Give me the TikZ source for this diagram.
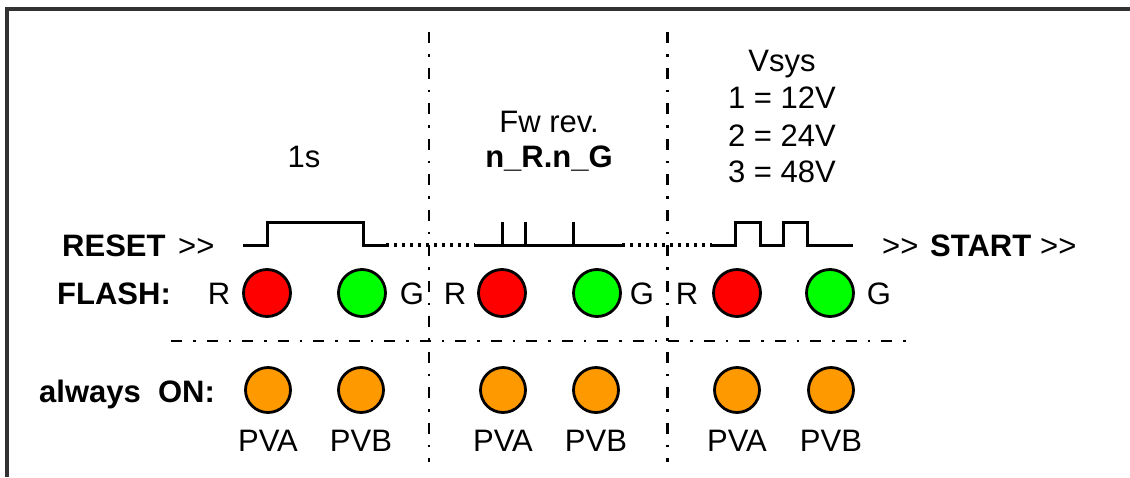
\documentclass[tikz,border=0pt]{standalone}
\usepackage{fontspec}
\setmainfont{Liberation Sans}
\definecolor{ledred}{RGB}{255,0,0}
\definecolor{ledgreen}{RGB}{0,255,0}
\definecolor{ledorange}{RGB}{255,153,0}
\definecolor{framegray}{RGB}{50,50,50}
\newcommand\dblgt{>\kern0pt>}
\begin{document}
\begin{tikzpicture}[x=1pt,y=-1pt,
  txt/.style={inner sep=0pt,font=\fontsize{31}{37}\selectfont},
  btxt/.style={txt,font=\fontsize{31}{37}\selectfont\bfseries},
  led/.style={circle,draw=black,line width=2.8pt,minimum size=47pt,inner sep=0pt},
  redled/.style={led,fill=ledred},
  greenled/.style={led,fill=ledgreen},
  orangeled/.style={led,fill=ledorange,minimum size=45pt},
  sig/.style={line width=3pt,line join=miter},
  dots/.style={line width=3.2pt,dash pattern=on 3pt off 5pt},
  sep/.style={line width=2.6pt,dash pattern=on 11pt off 11pt on 2.5pt off 11pt},
  framestyle/.style={draw=framegray,line width=3.5pt}]
\path[use as bounding box] (0,0) rectangle (1130,477);
\fill[white] (0,0) rectangle (1130,477);
% frame
\coordinate (fbl) at (7,477);
\coordinate (ftl) at (7,9);
\coordinate (ftr) at (1130,9);
\draw[framestyle] (fbl) -- (ftl) -- (ftr);

% separators
\coordinate (v1t) at (429,32);
\coordinate (v1b) at (429,462);
\coordinate (v2t) at (667.5,32);
\coordinate (v2b) at (667.5,462);
\coordinate (hl) at (171,341);
\coordinate (hr) at (916,341);
\draw[sep] (v1t) -- (v1b);
\draw[sep] (v2t) -- (v2b);
\draw[sep] (hl) -- (hr);

% top texts
\node[txt,anchor=base] (t1s) at (304,167) {1s};
\node[txt,anchor=base] (fw) at (549,132) {Fw rev.};
\node[btxt,anchor=base] (nrng) at (549,167) {n\_R.n\_G};
\node[txt,anchor=base] (vsys) at (782,71) {Vsys};
\node[txt,anchor=base] (v12) at (782,108) {1 = 12V};
\node[txt,anchor=base] (v24) at (782,146) {2 = 24V};
\node[txt,anchor=base] (v48) at (782,182) {3 = 48V};

% reset / start row
\node[btxt,anchor=base west] (reset) at (62,256) {RESET};
\node[txt,anchor=base west] (rarr) at (178,256) {\dblgt};
\node[txt,anchor=base west] (sarr1) at (882,256) {\dblgt};
\node[btxt,anchor=base west] (start) at (930,256) {START};
\node[txt,anchor=base west] (sarr2) at (1040,256) {\dblgt};

% waveform
\coordinate (a0) at (243,245);
\coordinate (a1) at (267,245);
\coordinate (a2) at (267,222);
\coordinate (a3) at (363,222);
\coordinate (a4) at (363,245);
\coordinate (a5) at (386,245);
\coordinate (b0) at (475,245);
\coordinate (b5) at (622,245);
\coordinate (c0) at (712,245);
\coordinate (c9) at (853,245);
\draw[sig] (a0) -- (a1) -- (a2) -- (a3) -- (a4) -- (a5);
\draw[dots] (a5) -- (b0);
\draw[sig] (b0) -- (b5);
\draw[sig] (502,245) -- (502,222);
\draw[sig] (525,245) -- (525,222);
\draw[sig] (573,245) -- (573,222);
\draw[dots] (b5) -- (c0);
\draw[sig] (c0) -- (735,245) -- (735,222) -- (760,222) -- (760,245) -- (783,245) -- (783,222) -- (807,222) -- (807,245) -- (c9);

% flash row
\node[btxt,anchor=base west] (flash) at (57,304) {FLASH:};
\node[txt,anchor=base] (r1) at (219,304) {R};
\node[redled] (red1) at (267,293) {};
\node[greenled] (grn1) at (362,293) {};
\node[txt,anchor=base] (g1) at (412,304) {G};
\node[txt,anchor=base] (r2) at (455,304) {R};
\node[redled] (red2) at (502,293) {};
\node[greenled] (grn2) at (597,293) {};
\node[txt,anchor=base] (g2) at (642,304) {G};
\node[txt,anchor=base] (r3) at (687,304) {R};
\node[redled] (red3) at (737,293) {};
\node[greenled] (grn3) at (830,293) {};
\node[txt,anchor=base] (g3) at (879,304) {G};

% always on row
\node[btxt,anchor=base west] (always) at (39,402) {always\ \ ON:};
\node[orangeled] (o1) at (268,390) {};
\node[orangeled] (o2) at (361,390) {};
\node[orangeled] (o3) at (503,390) {};
\node[orangeled] (o4) at (596,390) {};
\node[orangeled] (o5) at (737,390) {};
\node[orangeled] (o6) at (831,390) {};
\node[txt,anchor=base] (p1) at (268,451) {PVA};
\node[txt,anchor=base] (p2) at (361,451) {PVB};
\node[txt,anchor=base] (p3) at (503,451) {PVA};
\node[txt,anchor=base] (p4) at (596,451) {PVB};
\node[txt,anchor=base] (p5) at (737,451) {PVA};
\node[txt,anchor=base] (p6) at (831,451) {PVB};
\end{tikzpicture}
\end{document}
